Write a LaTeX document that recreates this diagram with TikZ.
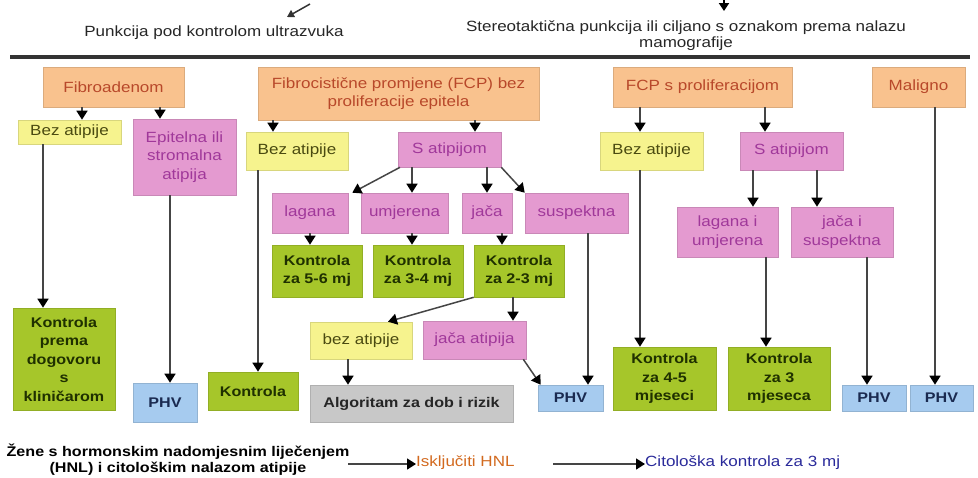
\documentclass[tikz,border=0pt]{standalone}
\usepackage{fontspec}
\setmainfont[FakeStretch=1.15]{Liberation Sans}
\usetikzlibrary{arrows.meta}
\definecolor{orfill}{HTML}{F9C28E}
\definecolor{ortext}{HTML}{B8482A}
\definecolor{yefill}{HTML}{F6F38E}
\definecolor{yetext}{HTML}{4A4A10}
\definecolor{pkfill}{HTML}{E49AD0}
\definecolor{pktext}{HTML}{A0389A}
\definecolor{grfill}{HTML}{A6C62A}
\definecolor{grtext}{HTML}{1F3000}
\definecolor{blfill}{HTML}{A6CBEF}
\definecolor{bltext}{HTML}{1A2A50}
\definecolor{gyfill}{HTML}{C8C8C8}
\definecolor{linec}{HTML}{454545}
\definecolor{iskc}{HTML}{D2691E}
\definecolor{citc}{HTML}{2A2A9A}
\tikzset{
  box/.style={rectangle, inner sep=0pt, align=center, line width=0.6pt,
    font=\fontsize{14.8}{18.5}\selectfont},
  orbox/.style={box, fill=orfill, draw=orfill!88!black, text=ortext},
  yebox/.style={box, fill=yefill, draw=yefill!88!black, text=yetext},
  pkbox/.style={box, fill=pkfill, draw=pkfill!88!black, text=pktext},
  grbox/.style={box, fill=grfill, draw=grfill!88!black, text=grtext, font=\fontsize{14}{18.5}\selectfont\bfseries},
  blbox/.style={box, fill=blfill, draw=blfill!88!black, text=bltext, font=\fontsize{14}{18}\selectfont\bfseries},
  gybox/.style={box, fill=gyfill, draw=gyfill!88!black, text=black!85, font=\fontsize{14}{18}\selectfont\bfseries},
  arr/.style={draw=linec, line width=1.5pt, -{Triangle[width=11pt,length=9pt,color=black]}},
  plain/.style={inner sep=0pt, align=center, font=\fontsize{14.8}{16}\selectfont, text=black!85},
}
\begin{document}
\begin{tikzpicture}[x=1pt,y=-1pt]
\useasboundingbox (0,0) rectangle (978,477);
% top
\coordinate (ta1) at (310,4);
\coordinate (ta2) at (287,17);
\draw[draw=black!80, line width=1.5pt, -{Triangle[width=8pt,length=7pt]}] (ta1) -- (ta2);
\coordinate (tb1) at (724,-2);
\coordinate (tb2) at (724,11);
\draw[draw=black, line width=2.5pt, -{Triangle[width=10pt,length=8pt]}] (tb1) -- (tb2);
\node[plain] (pun) at (214,33) {Punkcija pod kontrolom ultrazvuka};
\node[plain] (ster) at (686,36) {Stereotaktična punkcija ili ciljano s oznakom prema nalazu\\mamografije};
\fill[black!80] (10,54.5) rectangle (970,58.5);

% row 1
\node[orbox, minimum width=141, minimum height=40] (fib) at (113.5,87) {Fibroadenom};
\node[orbox, minimum width=281, minimum height=53] (fcp) at (398.5,93.5) {Fibrocistične promjene (FCP) bez\\proliferacije epitela};
\node[orbox, minimum width=179, minimum height=40] (fcpp) at (702.5,87) {FCP s proliferacijom};
\node[orbox, minimum width=93, minimum height=40] (mal) at (918.5,87) {Maligno};
% row 2
\node[yebox, minimum width=103, minimum height=24] (bez1) at (69.5,132) {Bez atipije};
\node[pkbox, minimum width=103, minimum height=76] (epi) at (184.5,157) {Epitelna ili\\stromalna\\atipija};
\node[yebox, minimum width=102, minimum height=38] (bez2) at (297,151) {Bez atipije};
\node[pkbox, minimum width=103, minimum height=35] (sat1) at (449.5,149.5) {S atipijom};
\node[yebox, minimum width=103, minimum height=38] (bez3) at (651.5,151) {Bez atipije};
\node[pkbox, minimum width=103, minimum height=38] (sat2) at (791.5,151) {S atipijom};
% row 3
\node[pkbox, minimum width=76, minimum height=40] (lag) at (310,213) {lagana};
\node[pkbox, minimum width=87, minimum height=40] (umj) at (404.5,213) {umjerena};
\node[pkbox, minimum width=50, minimum height=40] (jac) at (487,213) {jača};
\node[pkbox, minimum width=103, minimum height=40] (sus) at (576.5,213) {suspektna};
\node[pkbox, minimum width=101, minimum height=50] (lui) at (727.5,232) {lagana i\\umjerena};
\node[pkbox, minimum width=102, minimum height=50] (jis) at (842,232) {jača i\\suspektna};
% row 4
\node[grbox, minimum width=90, minimum height=52] (k56) at (317,271) {Kontrola\\za 5-6 mj};
\node[grbox, minimum width=90, minimum height=52] (k34) at (418,271) {Kontrola\\za 3-4 mj};
\node[grbox, minimum width=90, minimum height=52] (k23) at (519,271) {Kontrola\\za 2-3 mj};
\node[yebox, minimum width=102, minimum height=37] (bez4) at (361,340.5) {bez atipije};
\node[pkbox, minimum width=103, minimum height=38] (jat) at (474.5,340) {jača atipija};
% bottom row
\node[grbox, minimum width=102, minimum height=102] (kdog) at (64,359) {Kontrola\\prema\\dogovoru\\s\\kliničarom};
\node[blbox, minimum width=64, minimum height=39] (phv1) at (165,402.5) {PHV};
\node[grbox, minimum width=90, minimum height=38] (kon) at (253,391) {Kontrola};
\node[gybox, minimum width=203, minimum height=37] (alg) at (411.5,403.5) {Algoritam za dob i rizik};
\node[blbox, minimum width=65, minimum height=26] (phv2) at (570.5,398) {PHV};
\node[grbox, minimum width=103, minimum height=63] (k45) at (664.5,378.5) {Kontrola\\za 4-5\\mjeseci};
\node[grbox, minimum width=102, minimum height=63] (k3) at (779,378.5) {Kontrola\\za 3\\mjeseca};
\node[blbox, minimum width=64, minimum height=26] (phv3) at (874,398) {PHV};
\node[blbox, minimum width=63, minimum height=26] (phv4) at (941.5,398) {PHV};

% connectors
\draw[arr] (fib.south -| 82,0) -- (bez1.north -| 82,0);
\draw[arr] (fib.south -| 160,0) -- (epi.north -| 160,0);
\draw[arr] (fcp.south -| 273,0) -- (bez2.north -| 273,0);
\draw[arr] (fcp.south -| 475,0) -- (sat1.north -| 475,0);
\draw[arr] (fcpp.south -| 640,0) -- (bez3.north -| 640,0);
\draw[arr] (fcpp.south -| 765,0) -- (sat2.north -| 765,0);
\draw[arr] (bez1.south -| 43,0) -- (kdog.north -| 43,0);
\draw[arr] (epi.south -| 170,0) -- (phv1.north -| 170,0);
\draw[arr] (bez2.south -| 258,0) -- (kon.north -| 258,0);
\draw[arr] (sat1.south -| 400,0) -- ([xshift=4pt]lag.north east);
\draw[arr] (sat1.south -| 412,0) -- (umj.north -| 412,0);
\draw[arr] (sat1.south -| 487,0) -- (jac.north -| 487,0);
\draw[arr] (sat1.south east) -- (sus.north west);
\draw[arr] (lag.south -| 310,0) -- (k56.north -| 310,0);
\draw[arr] (umj.south -| 412,0) -- (k34.north -| 412,0);
\draw[arr] (jac.south -| 502,0) -- (k23.north -| 502,0);
\draw[arr] (k23.south west) -- (bez4.north -| 388,0);
\draw[arr] (k23.south -| 513,0) -- (jat.north -| 513,0);
\draw[arr] (bez4.south -| 348,0) -- (alg.north -| 348,0);
\draw[arr] ([xshift=-3pt]jat.south east) -- ([xshift=3pt]phv2.north west);
\draw[arr] (sus.south -| 588,0) -- (phv2.north -| 588,0);
\draw[arr] (bez3.south -| 640,0) -- (k45.north -| 640,0);
\draw[arr] (sat2.south -| 753,0) -- (lui.north -| 753,0);
\draw[arr] (sat2.south -| 817,0) -- (jis.north -| 817,0);
\draw[arr] (lui.south -| 766,0) -- (k3.north -| 766,0);
\draw[arr] (jis.south -| 867,0) -- (phv3.north -| 867,0);
\draw[arr] (mal.south -| 935,0) -- (phv4.north -| 935,0);

% bottom legend
\node[plain, font=\fontsize{14}{16}\selectfont\bfseries, text=black] (zene) at (178,460) {Žene s hormonskim nadomjesnim liječenjem\\(HNL) i citološkim nalazom atipije};
\node[plain, anchor=west, text=iskc] (isk) at (416,463) {Isključiti HNL};
\node[plain, anchor=west, text=citc] (cit) at (645,463) {Citološka kontrola za 3 mj};
\coordinate (b1) at (348,464);
\coordinate (b2) at (553,464);
\draw[arr] (b1) -- (b1 -| isk.west);
\draw[arr] (b2) -- (b2 -| cit.west);
\end{tikzpicture}
\end{document}
